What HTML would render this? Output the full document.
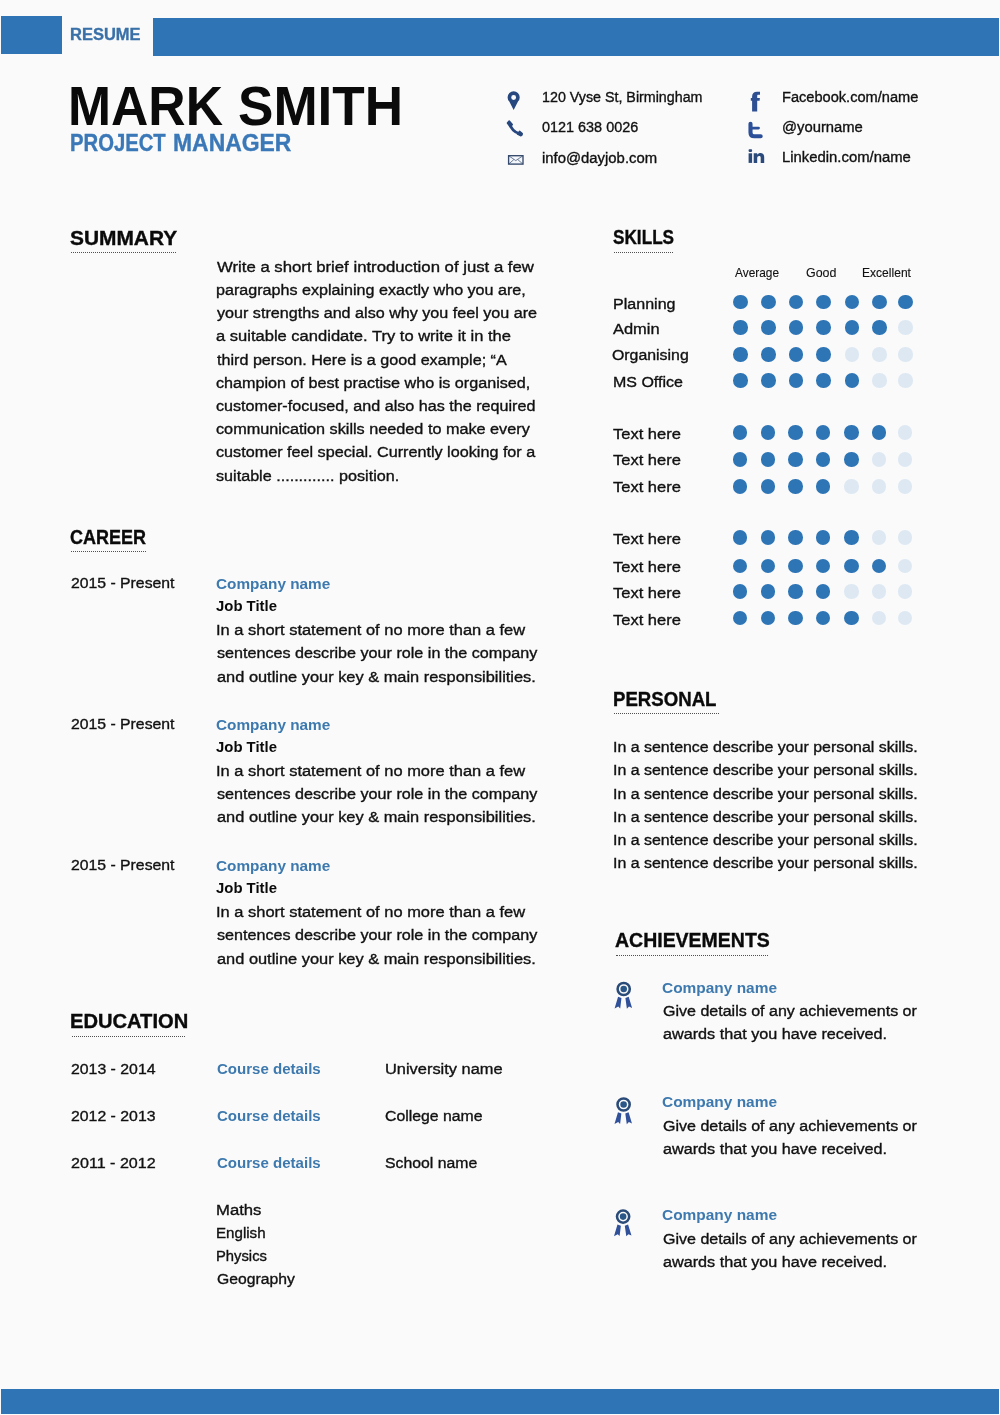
<!DOCTYPE html>
<html><head><meta charset="utf-8"><title>Resume</title>
<style>
html,body{margin:0;padding:0}
body{width:1000px;height:1415px;position:relative;overflow:hidden;background:#fafafa;font-family:"Liberation Sans",sans-serif;color:#111}
.t{position:absolute;white-space:pre;line-height:20px;height:20px;transform-origin:0 50%;-webkit-text-stroke:0.36px currentColor}
.bar{position:absolute;background:#2f74b4}
.ul{position:absolute;height:0;border-top:1px dotted #505050}
.d{position:absolute;width:14.5px;height:14.5px;border-radius:50%;background:#2e75b6}
.d.o{background:#dde8f3}
svg{position:absolute;overflow:visible}
#pg{position:absolute;left:0;top:0;width:1000px;height:1415px;will-change:transform}
</style></head><body>
<div id="pg">

<div class="bar" style="left:1px;top:16px;width:61px;height:38px"></div>
<div class="bar" style="left:153px;top:18px;width:846px;height:37.5px"></div>
<div class="bar" style="left:1px;top:1389px;width:998px;height:24.6px"></div>
<div class="ul" style="left:71.3px;top:251.9px;width:104.50000000000001px"></div>
<div class="ul" style="left:71.3px;top:550.5px;width:74.39999999999999px"></div>
<div class="ul" style="left:71.7px;top:1036.0px;width:113.49999999999999px"></div>
<div class="ul" style="left:613.7px;top:251.9px;width:59.799999999999955px"></div>
<div class="ul" style="left:614.3px;top:713.1px;width:105.10000000000002px"></div>
<div class="ul" style="left:615.5px;top:955.1px;width:152.89999999999998px"></div>
<div class="t" style="left:70.45px;top:24.00px;font-size:17.4px;font-weight:bold;color:#3a70a8;transform:scaleX(0.9479)">RESUME</div>
<div class="t" style="left:67.73px;top:97.00px;font-size:54.6px;font-weight:bold;-webkit-text-stroke-width:0px;color:#0a0a0a;transform:scaleX(0.9464)">MARK</div>
<div class="t" style="left:237.68px;top:97.00px;font-size:54.6px;font-weight:bold;-webkit-text-stroke-width:0px;color:#0a0a0a;transform:scaleX(0.9723)">SMITH</div>
<div class="t" style="left:69.82px;top:133.00px;font-size:23.0px;font-weight:bold;color:#3a78b8;transform:scaleX(0.8814)">PROJECT</div>
<div class="t" style="left:172.67px;top:133.00px;font-size:23.0px;font-weight:bold;color:#3a78b8;transform:scaleX(0.9963)">MANAGER</div>
<div class="t" style="left:542.08px;top:87.00px;font-size:15.5px;transform:scaleX(0.9208)">120 Vyse St, Birmingham</div>
<div class="t" style="left:542.19px;top:117.00px;font-size:15.5px;transform:scaleX(0.9302)">0121 638 0026</div>
<div class="t" style="left:541.54px;top:148.00px;font-size:15.5px;transform:scaleX(0.9592)">info@dayjob.com</div>
<div class="t" style="left:782.06px;top:87.00px;font-size:15.5px;transform:scaleX(0.9419)">Facebook.com/name</div>
<div class="t" style="left:781.55px;top:117.00px;font-size:15.5px;transform:scaleX(0.9548)">@yourname</div>
<div class="t" style="left:782.04px;top:147.00px;font-size:15.5px;transform:scaleX(0.9586)">Linkedin.com/name</div>
<div class="t" style="left:70.44px;top:228.00px;font-size:19.6px;font-weight:bold;color:#0a0a0a;transform:scaleX(1.0670)">SUMMARY</div>
<div class="t" style="left:70.19px;top:527.00px;font-size:19.6px;font-weight:bold;color:#0a0a0a;transform:scaleX(0.9178)">CAREER</div>
<div class="t" style="left:70.17px;top:1011.00px;font-size:19.6px;font-weight:bold;color:#0a0a0a;transform:scaleX(1.0274)">EDUCATION</div>
<div class="t" style="left:612.91px;top:227.00px;font-size:19.6px;font-weight:bold;color:#0a0a0a;transform:scaleX(0.8767)">SKILLS</div>
<div class="t" style="left:612.85px;top:689.00px;font-size:19.6px;font-weight:bold;color:#0a0a0a;transform:scaleX(0.9503)">PERSONAL</div>
<div class="t" style="left:614.67px;top:930.00px;font-size:19.6px;font-weight:bold;color:#0a0a0a;transform:scaleX(0.9944)">ACHIEVEMENTS</div>
<div class="t" style="left:216.70px;top:257.00px;font-size:15.5px;transform:scaleX(1.0798)">Write a short brief introduction of just a few</div>
<div class="t" style="left:216.01px;top:280.00px;font-size:15.5px;transform:scaleX(1.0390)">paragraphs explaining exactly who you are,</div>
<div class="t" style="left:217.05px;top:303.00px;font-size:15.5px;transform:scaleX(1.0406)">your strengths and also why you feel you are</div>
<div class="t" style="left:216.34px;top:326.00px;font-size:15.5px;transform:scaleX(1.0665)">a suitable candidate. Try to write it in the</div>
<div class="t" style="left:216.70px;top:350.00px;font-size:15.5px;transform:scaleX(1.0412)">third person. Here is a good example; “A</div>
<div class="t" style="left:216.35px;top:373.00px;font-size:15.5px;transform:scaleX(1.0423)">champion of best practise who is organised,</div>
<div class="t" style="left:216.35px;top:396.00px;font-size:15.5px;transform:scaleX(1.0413)">customer-focused, and also has the required</div>
<div class="t" style="left:216.35px;top:419.00px;font-size:15.5px;transform:scaleX(1.0465)">communication skills needed to make every</div>
<div class="t" style="left:216.35px;top:442.00px;font-size:15.5px;transform:scaleX(1.0439)">customer feel special. Currently looking for a</div>
<div class="t" style="left:216.35px;top:466.00px;font-size:15.5px;transform:scaleX(1.0423)">suitable ............. position.</div>
<div class="t" style="left:70.82px;top:573.00px;font-size:15.5px;transform:scaleX(1.0173)">2015 - Present</div>
<div class="t" style="left:216.14px;top:574.00px;font-size:15.5px;font-weight:bold;-webkit-text-stroke-width:0px;color:#3d79ae;transform:scaleX(0.9901)">Company name</div>
<div class="t" style="left:216.48px;top:596.00px;font-size:15.5px;font-weight:bold;-webkit-text-stroke-width:0px;color:#0a0a0a;transform:scaleX(0.9606)">Job Title</div>
<div class="t" style="left:215.78px;top:620.00px;font-size:15.5px;transform:scaleX(1.0614)">In a short statement of no more than a few</div>
<div class="t" style="left:216.65px;top:643.00px;font-size:15.5px;transform:scaleX(1.0412)">sentences describe your role in the company</div>
<div class="t" style="left:216.65px;top:667.00px;font-size:15.5px;transform:scaleX(1.0573)">and outline your key &amp; main responsibilities.</div>
<div class="t" style="left:70.82px;top:714.00px;font-size:15.5px;transform:scaleX(1.0173)">2015 - Present</div>
<div class="t" style="left:216.14px;top:715.00px;font-size:15.5px;font-weight:bold;-webkit-text-stroke-width:0px;color:#3d79ae;transform:scaleX(0.9901)">Company name</div>
<div class="t" style="left:216.48px;top:737.00px;font-size:15.5px;font-weight:bold;-webkit-text-stroke-width:0px;color:#0a0a0a;transform:scaleX(0.9606)">Job Title</div>
<div class="t" style="left:215.78px;top:761.00px;font-size:15.5px;transform:scaleX(1.0614)">In a short statement of no more than a few</div>
<div class="t" style="left:216.65px;top:784.00px;font-size:15.5px;transform:scaleX(1.0412)">sentences describe your role in the company</div>
<div class="t" style="left:216.65px;top:807.00px;font-size:15.5px;transform:scaleX(1.0573)">and outline your key &amp; main responsibilities.</div>
<div class="t" style="left:70.82px;top:855.00px;font-size:15.5px;transform:scaleX(1.0173)">2015 - Present</div>
<div class="t" style="left:216.14px;top:856.00px;font-size:15.5px;font-weight:bold;-webkit-text-stroke-width:0px;color:#3d79ae;transform:scaleX(0.9901)">Company name</div>
<div class="t" style="left:216.48px;top:878.00px;font-size:15.5px;font-weight:bold;-webkit-text-stroke-width:0px;color:#0a0a0a;transform:scaleX(0.9606)">Job Title</div>
<div class="t" style="left:215.78px;top:902.00px;font-size:15.5px;transform:scaleX(1.0614)">In a short statement of no more than a few</div>
<div class="t" style="left:216.65px;top:925.00px;font-size:15.5px;transform:scaleX(1.0412)">sentences describe your role in the company</div>
<div class="t" style="left:216.65px;top:949.00px;font-size:15.5px;transform:scaleX(1.0573)">and outline your key &amp; main responsibilities.</div>
<div class="t" style="left:70.52px;top:1059.00px;font-size:15.5px;transform:scaleX(1.0212)">2013 - 2014</div>
<div class="t" style="left:216.55px;top:1059.00px;font-size:15.5px;font-weight:bold;-webkit-text-stroke-width:0px;color:#3d79ae;transform:scaleX(0.9710)">Course details</div>
<div class="t" style="left:384.74px;top:1059.00px;font-size:15.5px;transform:scaleX(1.0578)">University name</div>
<div class="t" style="left:70.52px;top:1106.00px;font-size:15.5px;transform:scaleX(1.0212)">2012 - 2013</div>
<div class="t" style="left:216.55px;top:1106.00px;font-size:15.5px;font-weight:bold;-webkit-text-stroke-width:0px;color:#3d79ae;transform:scaleX(0.9710)">Course details</div>
<div class="t" style="left:385.12px;top:1106.00px;font-size:15.5px;transform:scaleX(1.0198)">College name</div>
<div class="t" style="left:70.51px;top:1153.00px;font-size:15.5px;transform:scaleX(1.0382)">2011 - 2012</div>
<div class="t" style="left:216.55px;top:1153.00px;font-size:15.5px;font-weight:bold;-webkit-text-stroke-width:0px;color:#3d79ae;transform:scaleX(0.9710)">Course details</div>
<div class="t" style="left:385.12px;top:1153.00px;font-size:15.5px;transform:scaleX(1.0187)">School name</div>
<div class="t" style="left:216.32px;top:1200.00px;font-size:15.5px;transform:scaleX(1.0756)">Maths</div>
<div class="t" style="left:216.42px;top:1223.00px;font-size:15.5px;transform:scaleX(0.9755)">English</div>
<div class="t" style="left:216.45px;top:1246.00px;font-size:15.5px;transform:scaleX(0.9538)">Physics</div>
<div class="t" style="left:216.72px;top:1269.00px;font-size:15.5px;transform:scaleX(1.0140)">Geography</div>
<div class="t" style="left:735.00px;top:263.00px;font-size:12.6px;-webkit-text-stroke-width:0.12px;transform:scaleX(0.9442)">Average</div>
<div class="t" style="left:805.84px;top:263.00px;font-size:12.6px;-webkit-text-stroke-width:0.12px;transform:scaleX(0.9886)">Good</div>
<div class="t" style="left:861.54px;top:263.00px;font-size:12.6px;-webkit-text-stroke-width:0.12px;transform:scaleX(0.9580)">Excellent</div>
<div class="t" style="left:612.56px;top:294.00px;font-size:15.5px;transform:scaleX(1.0364)">Planning</div>
<div class="t" style="left:613.00px;top:319.00px;font-size:15.5px;transform:scaleX(1.0615)">Admin</div>
<div class="t" style="left:612.32px;top:345.00px;font-size:15.5px;transform:scaleX(1.0235)">Organising</div>
<div class="t" style="left:612.57px;top:372.00px;font-size:15.5px;transform:scaleX(1.0312)">MS Office</div>
<div class="t" style="left:613.00px;top:424.00px;font-size:15.5px;transform:scaleX(1.0642)">Text here</div>
<div class="t" style="left:613.00px;top:450.00px;font-size:15.5px;transform:scaleX(1.0642)">Text here</div>
<div class="t" style="left:613.00px;top:477.00px;font-size:15.5px;transform:scaleX(1.0642)">Text here</div>
<div class="t" style="left:613.00px;top:529.00px;font-size:15.5px;transform:scaleX(1.0642)">Text here</div>
<div class="t" style="left:613.00px;top:557.00px;font-size:15.5px;transform:scaleX(1.0642)">Text here</div>
<div class="t" style="left:613.00px;top:583.00px;font-size:15.5px;transform:scaleX(1.0642)">Text here</div>
<div class="t" style="left:613.00px;top:610.00px;font-size:15.5px;transform:scaleX(1.0642)">Text here</div>
<div class="t" style="left:612.63px;top:737.00px;font-size:15.5px;transform:scaleX(1.0282)">In a sentence describe your personal skills.</div>
<div class="t" style="left:612.63px;top:760.00px;font-size:15.5px;transform:scaleX(1.0282)">In a sentence describe your personal skills.</div>
<div class="t" style="left:612.63px;top:784.00px;font-size:15.5px;transform:scaleX(1.0282)">In a sentence describe your personal skills.</div>
<div class="t" style="left:612.63px;top:807.00px;font-size:15.5px;transform:scaleX(1.0282)">In a sentence describe your personal skills.</div>
<div class="t" style="left:612.63px;top:830.00px;font-size:15.5px;transform:scaleX(1.0282)">In a sentence describe your personal skills.</div>
<div class="t" style="left:612.63px;top:853.00px;font-size:15.5px;transform:scaleX(1.0282)">In a sentence describe your personal skills.</div>
<div class="t" style="left:661.94px;top:978.00px;font-size:15.5px;font-weight:bold;-webkit-text-stroke-width:0px;color:#3d79ae;transform:scaleX(0.9962)">Company name</div>
<div class="t" style="left:662.91px;top:1001.00px;font-size:15.5px;transform:scaleX(1.0339)">Give details of any achievements or</div>
<div class="t" style="left:663.05px;top:1024.00px;font-size:15.5px;transform:scaleX(1.0446)">awards that you have received.</div>
<div class="t" style="left:661.94px;top:1092.00px;font-size:15.5px;font-weight:bold;-webkit-text-stroke-width:0px;color:#3d79ae;transform:scaleX(0.9962)">Company name</div>
<div class="t" style="left:662.91px;top:1116.00px;font-size:15.5px;transform:scaleX(1.0339)">Give details of any achievements or</div>
<div class="t" style="left:663.05px;top:1139.00px;font-size:15.5px;transform:scaleX(1.0446)">awards that you have received.</div>
<div class="t" style="left:661.94px;top:1205.00px;font-size:15.5px;font-weight:bold;-webkit-text-stroke-width:0px;color:#3d79ae;transform:scaleX(0.9962)">Company name</div>
<div class="t" style="left:662.91px;top:1229.00px;font-size:15.5px;transform:scaleX(1.0339)">Give details of any achievements or</div>
<div class="t" style="left:663.05px;top:1252.00px;font-size:15.5px;transform:scaleX(1.0446)">awards that you have received.</div>
<div class="d" style="left:733.15px;top:294.95px"></div>
<div class="d" style="left:761.35px;top:294.95px"></div>
<div class="d" style="left:788.75px;top:294.95px"></div>
<div class="d" style="left:816.35px;top:294.95px"></div>
<div class="d" style="left:844.55px;top:294.95px"></div>
<div class="d" style="left:872.25px;top:294.95px"></div>
<div class="d" style="left:898.05px;top:294.95px"></div>
<div class="d" style="left:733.15px;top:320.25px"></div>
<div class="d" style="left:761.35px;top:320.25px"></div>
<div class="d" style="left:788.75px;top:320.25px"></div>
<div class="d" style="left:816.35px;top:320.25px"></div>
<div class="d" style="left:844.55px;top:320.25px"></div>
<div class="d" style="left:872.25px;top:320.25px"></div>
<div class="d o" style="left:898.05px;top:320.25px"></div>
<div class="d" style="left:733.15px;top:347.00px"></div>
<div class="d" style="left:761.35px;top:347.00px"></div>
<div class="d" style="left:788.75px;top:347.00px"></div>
<div class="d" style="left:816.35px;top:347.00px"></div>
<div class="d o" style="left:844.55px;top:347.00px"></div>
<div class="d o" style="left:872.25px;top:347.00px"></div>
<div class="d o" style="left:898.05px;top:347.00px"></div>
<div class="d" style="left:733.15px;top:373.25px"></div>
<div class="d" style="left:761.35px;top:373.25px"></div>
<div class="d" style="left:788.75px;top:373.25px"></div>
<div class="d" style="left:816.35px;top:373.25px"></div>
<div class="d" style="left:844.55px;top:373.25px"></div>
<div class="d o" style="left:872.25px;top:373.25px"></div>
<div class="d o" style="left:898.05px;top:373.25px"></div>
<div class="d" style="left:732.75px;top:425.25px"></div>
<div class="d" style="left:760.95px;top:425.25px"></div>
<div class="d" style="left:788.35px;top:425.25px"></div>
<div class="d" style="left:815.95px;top:425.25px"></div>
<div class="d" style="left:844.15px;top:425.25px"></div>
<div class="d" style="left:871.85px;top:425.25px"></div>
<div class="d o" style="left:897.65px;top:425.25px"></div>
<div class="d" style="left:732.75px;top:452.00px"></div>
<div class="d" style="left:760.95px;top:452.00px"></div>
<div class="d" style="left:788.35px;top:452.00px"></div>
<div class="d" style="left:815.95px;top:452.00px"></div>
<div class="d" style="left:844.15px;top:452.00px"></div>
<div class="d o" style="left:871.85px;top:452.00px"></div>
<div class="d o" style="left:897.65px;top:452.00px"></div>
<div class="d" style="left:732.75px;top:479.00px"></div>
<div class="d" style="left:760.95px;top:479.00px"></div>
<div class="d" style="left:788.35px;top:479.00px"></div>
<div class="d" style="left:815.95px;top:479.00px"></div>
<div class="d o" style="left:844.15px;top:479.00px"></div>
<div class="d o" style="left:871.85px;top:479.00px"></div>
<div class="d o" style="left:897.65px;top:479.00px"></div>
<div class="d" style="left:732.75px;top:530.25px"></div>
<div class="d" style="left:760.95px;top:530.25px"></div>
<div class="d" style="left:788.35px;top:530.25px"></div>
<div class="d" style="left:815.95px;top:530.25px"></div>
<div class="d" style="left:844.15px;top:530.25px"></div>
<div class="d o" style="left:871.85px;top:530.25px"></div>
<div class="d o" style="left:897.65px;top:530.25px"></div>
<div class="d" style="left:732.75px;top:558.50px"></div>
<div class="d" style="left:760.95px;top:558.50px"></div>
<div class="d" style="left:788.35px;top:558.50px"></div>
<div class="d" style="left:815.95px;top:558.50px"></div>
<div class="d" style="left:844.15px;top:558.50px"></div>
<div class="d" style="left:871.85px;top:558.50px"></div>
<div class="d o" style="left:897.65px;top:558.50px"></div>
<div class="d" style="left:732.75px;top:584.00px"></div>
<div class="d" style="left:760.95px;top:584.00px"></div>
<div class="d" style="left:788.35px;top:584.00px"></div>
<div class="d" style="left:815.95px;top:584.00px"></div>
<div class="d o" style="left:844.15px;top:584.00px"></div>
<div class="d o" style="left:871.85px;top:584.00px"></div>
<div class="d o" style="left:897.65px;top:584.00px"></div>
<div class="d" style="left:732.75px;top:610.75px"></div>
<div class="d" style="left:760.95px;top:610.75px"></div>
<div class="d" style="left:788.35px;top:610.75px"></div>
<div class="d" style="left:815.95px;top:610.75px"></div>
<div class="d" style="left:844.15px;top:610.75px"></div>
<div class="d o" style="left:871.85px;top:610.75px"></div>
<div class="d o" style="left:897.65px;top:610.75px"></div>
<svg width="1000" height="1415" viewBox="0 0 1000 1415" style="left:0;top:0">

<!-- pin -->
<path fill="#27477f" fill-rule="evenodd" d="M513.65 110 L509.3 101.6 A6.05 6.05 0 1 1 518 101.6 Z M513.65 95 A2.45 2.45 0 1 0 513.65 99.9 A2.45 2.45 0 1 0 513.65 95 Z"/>
<!-- phone -->
<g fill="#27477f" stroke="#27477f">
<path fill="none" stroke-width="2.6" stroke-linecap="round" d="M509.8 123.6 Q511.6 131.4 519.6 133.8"/>
<path stroke-width="1.6" stroke-linejoin="round" d="M509.2 121 L512.2 124.6 L510 126.6 L507.5 123 Z"/>
<path stroke-width="1.6" stroke-linejoin="round" d="M519.6 131.4 L522.2 133.5 Q522.4 134.8 521 135.7 L517.6 134 Z"/>
</g>
<!-- envelope -->
<rect x="508.6" y="155.7" width="14.4" height="8.4" fill="#f4f7fb" stroke="#35496c" stroke-width="1.35"/>
<path fill="none" stroke="#35496c" stroke-width="0.7" d="M509 156 L515.8 160.6 L522.6 156 M509 163.8 L513.8 159.6 M522.6 163.8 L517.8 159.6"/>
<!-- facebook -->
<path fill="#2f4f93" d="M752.1 111.4 V100.7 H750.8 V98 H752.1 V96.6 C752.1 93.4 753.9 91.7 757 91.7 H760 V94.7 H758.4 C757.5 94.7 757.2 95.1 757.2 96.1 V98 H759.9 L759.6 100.7 H757.2 V111.4 Z"/>
<!-- twitter t -->
<g fill="none" stroke="#2c4f9a" stroke-linecap="round" stroke-linejoin="round">
<path stroke-width="4.1" d="M750.5 123.8 V132.4 Q750.5 136.3 754.4 136.3 H760.7"/>
<path stroke-width="2.9" d="M752 128.1 H758.5"/>
</g>
<!-- linkedin -->
<g fill="#2b4a7c">
<rect x="748.6" y="149.2" width="3.5" height="2.7" rx="0.8"/>
<rect x="748.6" y="153.3" width="3.5" height="9.6"/>
<path d="M753.7 162.9 V153.3 H757.2 V154.7 C758 153.6 759.2 153 760.6 153 C763 153 764.2 154.6 764.2 157.2 V162.9 H760.7 V157.8 C760.7 156.5 760.2 155.9 759.2 155.9 C758 155.9 757.2 156.7 757.2 158 V162.9 Z"/>
</g>
<!-- ribbons -->
<g transform="translate(623.7 989) scale(1.06)">
<circle cx="0" cy="0" r="5.75" fill="none" stroke="#2a4a78" stroke-width="2.4"/>
<circle cx="0" cy="0" r="3.1" fill="#2b5688"/>
<path fill="#30509a" d="M-5.3 7.4 L-2.1 8.6 L-3.3 18.4 L-5.1 16.6 L-8.6 18.5 Z M4.7 7.4 L1.6 8.6 L3.0 18.6 L5.0 16.6 L7.9 17.9 Z"/>
</g>
<g transform="translate(623.6 1104.5) scale(1.06)">
<circle cx="0" cy="0" r="5.75" fill="none" stroke="#2a4a78" stroke-width="2.4"/>
<circle cx="0" cy="0" r="3.1" fill="#2b5688"/>
<path fill="#30509a" d="M-5.3 7.4 L-2.1 8.6 L-3.3 18.4 L-5.1 16.6 L-8.6 18.5 Z M4.7 7.4 L1.6 8.6 L3.0 18.6 L5.0 16.6 L7.9 17.9 Z"/>
</g>
<g transform="translate(623.1 1216.6) scale(1.06)">
<circle cx="0" cy="0" r="5.75" fill="none" stroke="#2a4a78" stroke-width="2.4"/>
<circle cx="0" cy="0" r="3.1" fill="#2b5688"/>
<path fill="#30509a" d="M-5.3 7.4 L-2.1 8.6 L-3.3 18.4 L-5.1 16.6 L-8.6 18.5 Z M4.7 7.4 L1.6 8.6 L3.0 18.6 L5.0 16.6 L7.9 17.9 Z"/>
</g>
</svg>

</div>
</body></html>
